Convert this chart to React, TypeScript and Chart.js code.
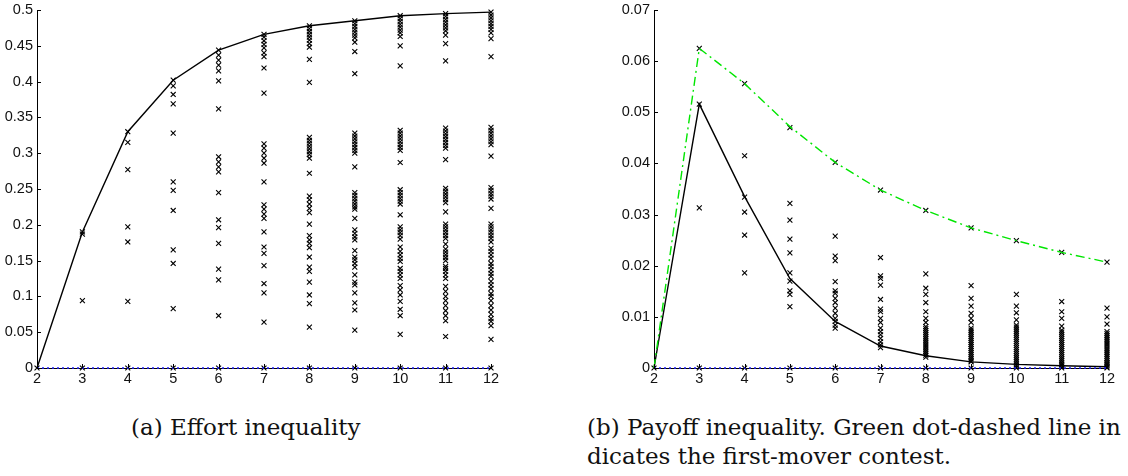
import React, { useEffect, useRef } from "react";
import { Chart, registerables } from "chart.js";

Chart.register(...registerables);

// ---------- data ----------
const nValues = [2, 3, 4, 5, 6, 7, 8, 9, 10, 11, 12];

// (a) Effort inequality
const effortCurve = [0, 0.19, 0.33, 0.402, 0.444, 0.466, 0.478, 0.485, 0.492, 0.495, 0.497];
const effort2 = [0];
const effort3 = [0.19, 0.187, 0.094, 0];
const effort4 = [0.33, 0.315, 0.277, 0.197, 0.176, 0.093, 0];
const effort5 = [0.402, 0.394, 0.382, 0.369, 0.328, 0.26, 0.248, 0.22, 0.165, 0.146, 0.083, 0];
const effort6 = [0.444, 0.437, 0.43, 0.423, 0.415, 0.401, 0.362, 0.295, 0.288, 0.281, 0.274, 0.245, 0.207, 0.196, 0.174, 0.138, 0.123, 0.073, 0];
const effort7 = [0.466, 0.462, 0.457, 0.452, 0.447, 0.44, 0.435, 0.419, 0.384, 0.313, 0.307, 0.3, 0.293, 0.286, 0.26, 0.228, 0.222, 0.215, 0.209, 0.19, 0.169, 0.16, 0.143, 0.118, 0.105, 0.064, 0];
const effort8 = [0.478, 0.474, 0.47, 0.466, 0.462, 0.458, 0.453, 0.448, 0.431, 0.399, 0.322, 0.318, 0.314, 0.31, 0.306, 0.302, 0.298, 0.293, 0.272, 0.24, 0.235, 0.229, 0.223, 0.217, 0.201, 0.185, 0.179, 0.174, 0.168, 0.155, 0.141, 0.135, 0.12, 0.102, 0.09, 0.057, 0];
const effort9 = [0.485, 0.481, 0.477, 0.473, 0.469, 0.465, 0.461, 0.455, 0.442, 0.411, 0.328, 0.324, 0.32, 0.316, 0.312, 0.308, 0.304, 0.3, 0.281, 0.245, 0.241, 0.237, 0.233, 0.229, 0.225, 0.222, 0.209, 0.193, 0.188, 0.183, 0.179, 0.164, 0.155, 0.151, 0.146, 0.141, 0.13, 0.12, 0.116, 0.105, 0.091, 0.081, 0.053, 0];
const effort10 = [0.492, 0.488, 0.484, 0.48, 0.476, 0.472, 0.468, 0.463, 0.45, 0.422, 0.332, 0.328, 0.324, 0.32, 0.316, 0.312, 0.308, 0.304, 0.287, 0.249, 0.245, 0.241, 0.237, 0.233, 0.229, 0.214, 0.197, 0.193, 0.189, 0.185, 0.18, 0.169, 0.163, 0.158, 0.153, 0.149, 0.139, 0.135, 0.13, 0.125, 0.115, 0.109, 0.102, 0.093, 0.082, 0.073, 0.047, 0];
const effort11 = [0.495, 0.491, 0.487, 0.483, 0.479, 0.475, 0.471, 0.465, 0.453, 0.429, 0.335, 0.331, 0.327, 0.323, 0.319, 0.315, 0.311, 0.307, 0.291, 0.251, 0.247, 0.243, 0.239, 0.235, 0.231, 0.218, 0.201, 0.197, 0.193, 0.189, 0.185, 0.181, 0.173, 0.166, 0.162, 0.158, 0.154, 0.15, 0.142, 0.139, 0.135, 0.13, 0.125, 0.114, 0.107, 0.1, 0.094, 0.087, 0.08, 0.073, 0.066, 0.044, 0];
const effort12 = [0.497, 0.493, 0.489, 0.485, 0.481, 0.477, 0.473, 0.468, 0.46, 0.435, 0.336, 0.332, 0.328, 0.324, 0.32, 0.316, 0.312, 0.296, 0.252, 0.248, 0.244, 0.24, 0.236, 0.223, 0.201, 0.197, 0.193, 0.189, 0.185, 0.181, 0.176, 0.167, 0.163, 0.158, 0.153, 0.146, 0.142, 0.137, 0.132, 0.128, 0.121, 0.116, 0.111, 0.104, 0.1, 0.094, 0.087, 0.081, 0.075, 0.069, 0.065, 0.059, 0.04, 0];
const effortPoints = [effort2, effort3, effort4, effort5, effort6, effort7, effort8, effort9, effort10, effort11, effort12];

// (b) Payoff inequality
const payoffCurve = [0, 0.0516, 0.0335, 0.0175, 0.0091, 0.0043, 0.0024, 0.0012, 0.0007, 0.00045, 0.00025];
const firstMoverCurve = [0, 0.0625, 0.0556, 0.0472, 0.0402, 0.0348, 0.0308, 0.0274, 0.0249, 0.0226, 0.0207];
const payoff2 = [0];
const payoff3 = [0.0625, 0.0516, 0.0313, 0];
const payoff4 = [0.0556, 0.0415, 0.0334, 0.0305, 0.026, 0.0186, 0];
const payoff5 = [0.047, 0.0322, 0.0289, 0.0252, 0.0225, 0.0186, 0.017, 0.0151, 0.0144, 0.012, 0];
const payoff6 = [0.0402, 0.0258, 0.0219, 0.021, 0.0169, 0.0151, 0.0146, 0.0136, 0.0128, 0.0117, 0.0107, 0.0097, 0.0091, 0.0084, 0.0078, 0];
const payoff7 = [0.0348, 0.0216, 0.018, 0.0175, 0.0162, 0.0134, 0.0115, 0.011, 0.0097, 0.0089, 0.0078, 0.0071, 0.0065, 0.0058, 0.0051, 0.0045, 0.004, 0];
const payoff8 = [0.0308, 0.0184, 0.0156, 0.0144, 0.0128, 0.011, 0.0097, 0.0089, 0.0081, 0.0077, 0.0073, 0.0069, 0.0065, 0.0061, 0.0057, 0.0053, 0.0049, 0.0045, 0.0041, 0.0037, 0.0033, 0.0029, 0.0025, 0.0021, 0];
const payoff9 = [0.0274, 0.0161, 0.0136, 0.0121, 0.0107, 0.0097, 0.0089, 0.0078, 0.0074, 0.007, 0.0066, 0.0062, 0.0058, 0.0054, 0.005, 0.0046, 0.0042, 0.0038, 0.0034, 0.003, 0.0026, 0.0022, 0.0018, 0.0014, 0.0012, 0];
const payoff10 = [0.0249, 0.0144, 0.0121, 0.0108, 0.0094, 0.0084, 0.008, 0.0076, 0.0072, 0.0068, 0.0064, 0.006, 0.0056, 0.0052, 0.0048, 0.0044, 0.004, 0.0036, 0.0032, 0.0028, 0.0024, 0.002, 0.0016, 0.0012, 0.0008, 0.0005, 0];
const payoff11 = [0.0226, 0.013, 0.011, 0.0097, 0.0082, 0.0074, 0.007, 0.0066, 0.0062, 0.0058, 0.0054, 0.005, 0.0046, 0.0042, 0.0038, 0.0034, 0.003, 0.0026, 0.0022, 0.0018, 0.0014, 0.001, 0.0007, 0.0004, 0];
const payoff12 = [0.0207, 0.0117, 0.01, 0.0086, 0.0071, 0.0067, 0.0063, 0.0059, 0.0055, 0.0051, 0.0047, 0.0043, 0.0039, 0.0035, 0.0031, 0.0027, 0.0023, 0.0019, 0.0015, 0.0011, 0.0008, 0.0005, 0.0002, 0];
const payoffPoints = [payoff2, payoff3, payoff4, payoff5, payoff6, payoff7, payoff8, payoff9, payoff10, payoff11, payoff12];

const zeroLine = [0, 0];
const zeroLineN = [2, 12];

const captionA = "(a) Effort inequality";
const captionB1 = "(b) Payoff inequality. Green dot-dashed line in";
const captionB2 = "dicates the first-mover contest.";

// ---------- helpers ----------
const fmt = (v: number) => String(Number(Number(v).toFixed(4)));

const inwardTicks = {
  id: "inwardTicks",
  afterDatasetsDraw(chart: any) {
    const { ctx, chartArea, scales } = chart;
    ctx.save();
    ctx.strokeStyle = "#000";
    ctx.lineWidth = 1;
    ctx.beginPath();
    scales.y.ticks.forEach((t: any) => {
      const y = Math.round(scales.y.getPixelForValue(t.value)) + 0.5;
      ctx.moveTo(chartArea.left, y);
      ctx.lineTo(chartArea.left + 4, y);
    });
    scales.x.ticks.forEach((t: any) => {
      const x = Math.round(scales.x.getPixelForValue(t.value)) + 0.5;
      ctx.moveTo(x, chartArea.bottom);
      ctx.lineTo(x, chartArea.bottom - 4);
    });
    ctx.stroke();
    ctx.restore();
  },
};

type PanelProps = {
  left: number;
  width: number;
  height: number;
  yAxisWidth: number;
  padRight: number;
  yMax: number;
  yStep: number;
  points: number[][];
  curves: { values: number[]; color: string; dash: number[] }[];
};

function Panel(props: PanelProps) {
  const ref = useRef<HTMLCanvasElement | null>(null);
  useEffect(() => {
    const scatter: { x: number; y: number }[] = [];
    props.points.forEach((arr, i) => arr.forEach((v) => scatter.push({ x: nValues[i], y: v })));
    const datasets: any[] = [
      {
        type: "scatter",
        data: scatter,
        showLine: false,
        pointStyle: "crossRot",
        pointRadius: 3.5,
        pointBorderWidth: 1.1,
        borderColor: "#000",
        backgroundColor: "#000",
        clip: false,
        order: 3,
      },
    ];
    props.curves.forEach((c, k) => {
      datasets.push({
        type: "line",
        data: c.values.map((v, i) => ({ x: nValues[i], y: v })),
        borderColor: c.color,
        borderWidth: 1.4,
        borderDash: c.dash,
        pointRadius: 0,
        tension: 0,
        fill: false,
        clip: false,
        order: 2 - k * 0.1,
      });
    });
    datasets.push({
      type: "line",
      data: zeroLine.map((v, i) => ({ x: zeroLineN[i], y: v })),
      borderColor: "#2020ff",
      borderWidth: 1.6,
      borderDash: [2, 3],
      pointRadius: 0,
      clip: false,
      order: 0,
    });
    const font = { family: "'Liberation Sans', Arial, sans-serif", size: 14.5 };
    const chart = new Chart(ref.current as HTMLCanvasElement, {
      type: "line",
      data: { datasets },
      plugins: [inwardTicks],
      options: {
        animation: false,
        responsive: false,
        maintainAspectRatio: false,
        events: [],
        layout: { padding: { left: 0, right: props.padRight, top: 10, bottom: 0 } },
        plugins: { legend: { display: false }, tooltip: { enabled: false } },
        scales: {
          x: {
            type: "linear",
            min: 2,
            max: 12,
            grid: { display: false, drawTicks: false },
            border: { display: true, color: "#000", width: 1 },
            ticks: { stepSize: 1, padding: 2, color: "#111", font, maxRotation: 0, callback: (v: any) => fmt(v) },
            afterFit: (s: any) => {
              s.height = 27;
              s.paddingLeft = 0;
              s.paddingRight = 0;
            },
          },
          y: {
            type: "linear",
            min: 0,
            max: props.yMax,
            grid: { display: false, drawTicks: false },
            border: { display: true, color: "#000", width: 1 },
            ticks: { stepSize: props.yStep, padding: 4, color: "#111", font, callback: (v: any) => fmt(v) },
            afterFit: (s: any) => {
              s.width = props.yAxisWidth;
              s.paddingTop = 0;
              s.paddingBottom = 0;
            },
          },
        },
      } as any,
    });
    return () => chart.destroy();
  }, []);
  return (
    <canvas
      ref={ref}
      width={props.width}
      height={props.height}
      style={{ position: "absolute", left: props.left, top: 0, width: props.width, height: props.height }}
    />
  );
}

const captionStyle: React.CSSProperties = {
  position: "absolute",
  fontFamily: "'DejaVu Serif', serif",
  fontSize: 23,
  lineHeight: "29px",
  whiteSpace: "nowrap",
  color: "#111",
};

export default function App() {
  return (
    <div
      style={{
        position: "absolute",
        left: 0,
        top: 0,
        width: 1128,
        height: 476,
        overflow: "hidden",
        background: "#fff",
      }}
    >
      <Panel
        left={0}
        width={510}
        height={395}
        yAxisWidth={37}
        padRight={19}
        yMax={0.5}
        yStep={0.05}
        points={effortPoints}
        curves={[{ values: effortCurve, color: "#000", dash: [] }]}
      />
      <Panel
        left={600}
        width={528}
        height={395}
        yAxisWidth={54}
        padRight={21}
        yMax={0.07}
        yStep={0.01}
        points={payoffPoints}
        curves={[
          { values: payoffCurve, color: "#000", dash: [] },
          { values: firstMoverCurve, color: "#00e600", dash: [9, 4, 2, 4] },
        ]}
      />
      <div style={{ ...captionStyle, left: 131, top: 413 }}>{captionA}</div>
      <div style={{ ...captionStyle, left: 587, top: 413 }}>
        <div>{captionB1}</div>
        <div>{captionB2}</div>
      </div>
    </div>
  );
}
